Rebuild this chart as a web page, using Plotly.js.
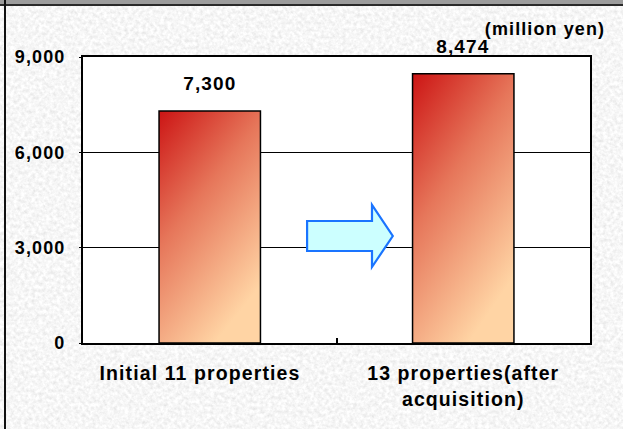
<!DOCTYPE html>
<html>
<head>
<meta charset="utf-8">
<script src="https://cdn.plot.ly/plotly-3.0.1.min.js"></script>
<style>
  html, body { margin: 0; padding: 0; }
  #wrap {
    position: relative; width: 623px; height: 429px; overflow: hidden;
    background-color: #ebebeb;
    background-image: url("data:image/svg+xml;utf8,<svg xmlns='http://www.w3.org/2000/svg' width='623' height='429'><filter id='n'><feTurbulence type='fractalNoise' baseFrequency='0.28' numOctaves='3' seed='7'/><feColorMatrix type='matrix' values='0.35 0 0 0 0.75  0.35 0 0 0 0.75  0.35 0 0 0 0.75  0 0 0 0 1'/></filter><rect width='100%' height='100%' filter='url(%23n)'/></svg>");
  }
  #topband { position: absolute; left: 0; top: 0; width: 623px; height: 4px; background: #9c9c9c; border-bottom: 2px solid #2a2a2a; z-index: 2; }
  #leftline { position: absolute; left: 4px; top: 0; width: 2px; height: 429px; background: #111; z-index: 2; }
  #chart { position: absolute; left: 0; top: 0; width: 623px; height: 429px; }
  #chart svg text { letter-spacing: 1.1px; }
</style>
</head>
<body>
<div id="wrap">
  <div id="chart"></div>
  <div id="topband"></div>
  <div id="leftline"></div>
</div>
<script>
// Rental revenue before and after the acquisition
const categories = ['Initial 11 properties\u00a0\u00a0\u00a0', '13 properties(after<br>acquisition)'];
const revenue = [7300, 8474];
const valueLabels = ['7,300', '8,474'];
const yTickVals = [0, 3000, 6000, 9000];
const yTickText = ['0', '3,000', '6,000', '9,000'];
const unitLabel = '(million yen)';

const font = {family: 'Liberation Sans, Arial, sans-serif', color: '#000', weight: 'bold'};
const withSize = s => Object.assign({}, font, {size: s});

const trace = {
  type: 'bar',
  x: categories,
  y: revenue,
  width: 0.4,
  marker: {color: '#e88a66', line: {color: '#000', width: 1.5}},
  hoverinfo: 'none'
};

const annotations = categories.map((c, i) => ({
  x: c, y: revenue[i], xref: 'x', yref: 'y',
  text: valueLabels[i],
  showarrow: false, yanchor: 'bottom', yshift: 15,
  font: withSize(19)
}));
annotations.push({
  xref: 'paper', yref: 'paper', x: 0.911, y: 1.098,
  xanchor: 'center', yanchor: 'middle',
  text: unitLabel, showarrow: false,
  font: withSize(18)
});

// Block arrow between the two bars
const ax0 = 0.442, ax1 = 0.570, ax2 = 0.611;
const arrowPath = `M ${ax0} 2895 L ${ax1} 2895 L ${ax1} 2392 L ${ax2} 3367 L ${ax1} 4343 L ${ax1} 3839 L ${ax0} 3839 Z`;

const layout = {
  width: 623, height: 429,
  margin: {l: 83, r: 33, t: 57, b: 86},
  paper_bgcolor: 'rgba(0,0,0,0)',
  plot_bgcolor: '#ffffff',
  showlegend: false,
  font: font,
  xaxis: {
    type: 'category',
    showline: true, mirror: true, linecolor: '#000', linewidth: 2,
    ticks: 'inside', tickson: 'boundaries', ticklen: 5, tickcolor: '#000', tickwidth: 2,
    tickfont: withSize(19.5),
    ticklabelstandoff: 12,
    showgrid: false, zeroline: false, fixedrange: true
  },
  yaxis: {
    range: [0, 9000],
    tickvals: yTickVals, ticktext: yTickText,
    showline: true, mirror: true, linecolor: '#000', linewidth: 2,
    ticks: 'outside', ticklen: 2, tickcolor: '#000',
    tickfont: withSize(18),
    ticklabelstandoff: 10,
    showgrid: true, gridcolor: '#000', gridwidth: 1,
    zeroline: false, fixedrange: true
  },
  annotations: annotations,
  shapes: [{
    type: 'path', xref: 'paper', yref: 'y', path: arrowPath,
    fillcolor: '#ccffff', line: {color: '#1a74ff', width: 2.2}, layer: 'above'
  }]
};

Plotly.newPlot('chart', [trace], layout, {staticPlot: true}).then(gd => {
  // Diagonal red-to-peach gradient fill for the bars
  const svg = gd.querySelector('svg.main-svg');
  const ns = 'http://www.w3.org/2000/svg';
  let defs = svg.querySelector('defs');
  if (!defs) { defs = document.createElementNS(ns, 'defs'); svg.insertBefore(defs, svg.firstChild); }
  const grad = document.createElementNS(ns, 'linearGradient');
  grad.setAttribute('id', 'barGrad');
  grad.setAttribute('x1', '0'); grad.setAttribute('y1', '0');
  grad.setAttribute('x2', '0.55'); grad.setAttribute('y2', '1');
  [['0', '#cc1414'], ['0.45', '#e6765a'], ['1', '#ffd4a4']].forEach(([o, c]) => {
    const s = document.createElementNS(ns, 'stop');
    s.setAttribute('offset', o); s.setAttribute('stop-color', c);
    grad.appendChild(s);
  });
  defs.appendChild(grad);
  gd.querySelectorAll('.barlayer .point path').forEach(p => { p.style.fill = 'url(#barGrad)'; });
});
</script>
</body>
</html>
